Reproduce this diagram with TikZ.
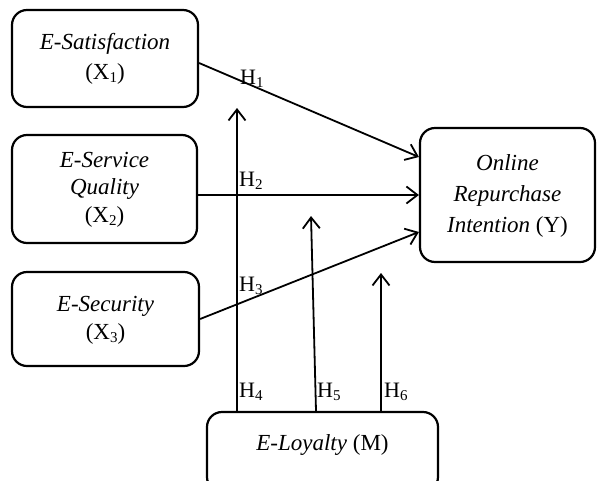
\documentclass[tikz,border=0pt]{standalone}
\usepackage{fontspec}
\setmainfont{Liberation Serif}
\usetikzlibrary{arrows.meta}
\newcommand{\sbs}[1]{\raisebox{-0.3ex}{\fontsize{15}{15}\selectfont #1}}
\tikzset{
  box/.style={draw, line width=2.2pt, rounded corners=15pt, inner sep=0pt, align=center,
    font=\fontsize{23}{30}\selectfont},
  conn/.style={line width=1.8pt, -{Straight Barb[length=11pt,width=17pt]}},
  hlab/.style={inner sep=0pt, anchor=base west, font=\fontsize{22}{22}\selectfont}
}
\begin{document}
\begin{tikzpicture}[x=1pt,y=-1pt]
\useasboundingbox (0,0) rectangle (597,480);
\clip (0,0) rectangle (597,480);
\node[box, minimum width=186pt, minimum height=97pt] (B1) at (105,58.5)
  {\raisebox{-2.5pt}{\begin{tabular}{@{}c@{}}\textit{E-Satisfaction}\\(X\sbs{1})\end{tabular}}};
\node[box, minimum width=185pt, minimum height=108pt, font=\fontsize{23}{27.5}\selectfont] (B2) at (104.5,189)
  {\raisebox{-3pt}{\begin{tabular}{@{}c@{}}\textit{E-Service}\\\textit{Quality}\\(X\sbs{2})\end{tabular}}};
\node[box, minimum width=187pt, minimum height=94pt] (B3) at (105.5,319)
  {\raisebox{9pt}{\begin{tabular}{@{}c@{}}\textit{E-Security}\\[-2pt](X\sbs{3})\end{tabular}}};
\node[box, minimum width=175pt, minimum height=134pt] (Y) at (507.5,195)
  {\raisebox{10.5pt}{\begin{tabular}{@{}c@{}}\textit{Online}\\[1pt]\textit{Repurchase}\\[1pt]\textit{Intention} (Y)\end{tabular}}};
\node[box, minimum width=231pt, minimum height=80pt] (M) at (322.5,452)
  {\raisebox{18pt}{\textit{E-Loyalty} (M)}};

\coordinate (t4) at (237,108);
\coordinate (t5) at (311,216);
\coordinate (t6) at (381,273);

\draw[conn] ([yshift=-4.5pt]B1.east) -- ([yshift=38pt]Y.west);
\draw[conn] (B2.east |- Y.west) -- (Y.west);
\draw[conn] (B3.east) -- ([yshift=-37pt]Y.west);
\draw[conn] ([xshift=-85.5pt]M.north) -- (t4);
\draw[conn] ([xshift=-6.5pt]M.north) -- (t5);
\draw[conn] ([xshift=58.5pt]M.north) -- (t6);

\node[hlab] (h1) at (240,84) {H\sbs{1}};
\node[hlab] (h2) at (239,186) {H\sbs{2}};
\node[hlab] (h3) at (239,291) {H\sbs{3}};
\node[hlab] (h4) at (239,397) {H\sbs{4}};
\node[hlab] (h5) at (317,397) {H\sbs{5}};
\node[hlab] (h6) at (384,397) {H\sbs{6}};
\end{tikzpicture}
\end{document}
